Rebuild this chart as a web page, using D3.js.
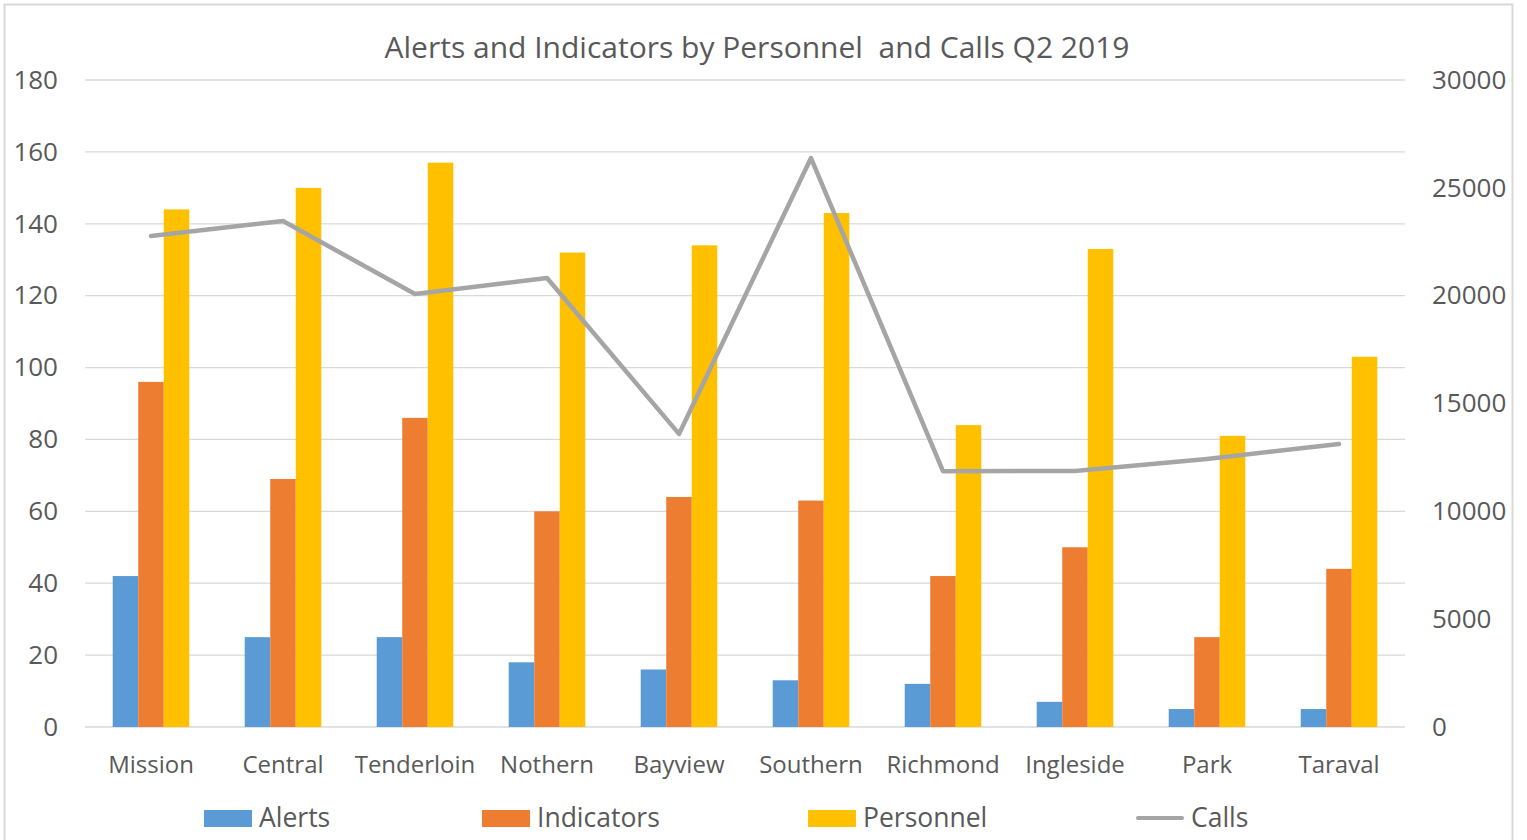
<!DOCTYPE html>
<html>
<head>
<meta charset="utf-8">
<script src="https://d3js.org/d3.v7.min.js"></script>
<style>
    body { margin: 0; background: #fff; }
    text { fill: #595959; }
</style>
</head>
<body>
<svg id="chart" width="1527" height="840"></svg>
<script>
    // data
    var districts = ["Mission", "Central", "Tenderloin", "Nothern", "Bayview", "Southern", "Richmond", "Ingleside", "Park", "Taraval"];
    var alerts = [42, 25, 25, 18, 16, 13, 12, 7, 5, 5];
    var indicators = [96, 69, 86, 60, 64, 63, 42, 50, 25, 44];
    var personnel = [144, 150, 157, 132, 134, 143, 84, 133, 81, 103];
    var calls = [22770, 23460, 20080, 20820, 13590, 26380, 11860, 11870, 12430, 13120];
    var leftTicks = [0, 20, 40, 60, 80, 100, 120, 140, 160, 180];
    var rightTicks = [0, 5000, 10000, 15000, 20000, 25000, 30000];

    var barSeries = ["Alerts", "Indicators", "Personnel"];
    var barColors = {Alerts: "#5b9bd5", Indicators: "#ed7d31", Personnel: "#ffc000"};
    var lineColor = "#a5a5a5";

    var svg = d3.select("#chart");
    var plotLeft = 85, plotRight = 1405, plotTop = 80, plotBottom = 727;

    // outer chart border
    svg.append("rect")
        .attr("x", 4.5).attr("y", 4.5)
        .attr("width", 1508).attr("height", 850)
        .attr("fill", "none").attr("stroke", "#d9d9d9").attr("stroke-width", 2);

    var x = d3.scaleBand().domain(districts).range([plotLeft, plotRight]).paddingInner(0.42).paddingOuter(0.21);
    var xs = d3.scaleBand().domain(barSeries).range([0, x.bandwidth()]);
    var y = d3.scaleLinear().domain([0, 180]).range([plotBottom, plotTop]);
    var y2 = d3.scaleLinear().domain([0, 30000]).range([plotBottom, plotTop]);

    // gridlines
    svg.append("g").selectAll("line").data(leftTicks).join("line")
        .attr("x1", plotLeft).attr("x2", plotRight)
        .attr("y1", d => y(d)).attr("y2", d => y(d))
        .attr("stroke", "#d9d9d9").attr("stroke-width", 1.3);

    // left axis
    var leftAxis = svg.append("g")
        .attr("transform", "translate(" + (plotLeft - 27) + ",0)")
        .call(d3.axisLeft(y).tickValues(leftTicks).tickSize(0).tickPadding(0));
    leftAxis.select(".domain").remove();
    leftAxis.selectAll("text").attr("font-family", "Open Sans").attr("font-size", 26).attr("fill", "#595959");

    // right axis
    var rightAxis = svg.append("g")
        .attr("transform", "translate(" + (plotRight + 27) + ",0)")
        .call(d3.axisRight(y2).tickValues(rightTicks).tickFormat(d3.format("d")).tickSize(0).tickPadding(0));
    rightAxis.select(".domain").remove();
    rightAxis.selectAll("text").attr("font-family", "Open Sans").attr("font-size", 26).attr("fill", "#595959");

    // category axis
    var bottomAxis = svg.append("g")
        .attr("transform", "translate(0," + plotBottom + ")")
        .call(d3.axisBottom(x).tickSize(0).tickPadding(29));
    bottomAxis.select(".domain").remove();
    bottomAxis.selectAll("text").attr("font-family", "Open Sans").attr("font-size", 24).attr("fill", "#595959");

    // bars
    var rows = districts.map((d, i) => ({district: d, Alerts: alerts[i], Indicators: indicators[i], Personnel: personnel[i]}));
    svg.append("g").selectAll("g").data(rows).join("g")
        .attr("transform", d => "translate(" + x(d.district) + ",0)")
        .selectAll("rect").data(d => barSeries.map(s => ({series: s, value: d[s]}))).join("rect")
        .attr("x", d => xs(d.series))
        .attr("width", xs.bandwidth())
        .attr("y", d => y(d.value))
        .attr("height", d => y(0) - y(d.value))
        .attr("fill", d => barColors[d.series]);

    // calls line
    var line = d3.line()
        .x((d, i) => x(districts[i]) + x.bandwidth() / 2)
        .y(d => y2(d));
    svg.append("path").datum(calls)
        .attr("d", line)
        .attr("fill", "none")
        .attr("stroke", lineColor)
        .attr("stroke-width", 4.5)
        .attr("stroke-linejoin", "round")
        .attr("stroke-linecap", "round");

    // title
    svg.append("text")
        .attr("x", 757).attr("y", 58)
        .attr("text-anchor", "middle")
        .attr("font-family", "Open Sans")
        .attr("font-size", 30)
        .style("white-space", "pre")
        .text("Alerts and Indicators by Personnel  and Calls Q2 2019");

    // legend
    var legendItems = [
        {name: "Alerts", x: 204, type: "rect"},
        {name: "Indicators", x: 482, type: "rect"},
        {name: "Personnel", x: 808, type: "rect"},
        {name: "Calls", x: 1136, type: "line"}
    ];
    var legend = svg.append("g").selectAll("g").data(legendItems).join("g")
        .attr("transform", d => "translate(" + d.x + ",818)");
    legend.filter(d => d.type === "rect").append("rect")
        .attr("x", 0).attr("y", -8).attr("width", 48).attr("height", 17)
        .attr("fill", d => barColors[d.name]);
    legend.filter(d => d.type === "line").append("line")
        .attr("x1", 2).attr("x2", 46).attr("y1", 0).attr("y2", 0)
        .attr("stroke", lineColor).attr("stroke-width", 4).attr("stroke-linecap", "round");
    legend.append("text")
        .attr("x", 55).attr("y", 9)
        .attr("font-family", "Open Sans")
        .attr("font-size", 26.5)
        .text(d => d.name);
</script>
</body>
</html>
